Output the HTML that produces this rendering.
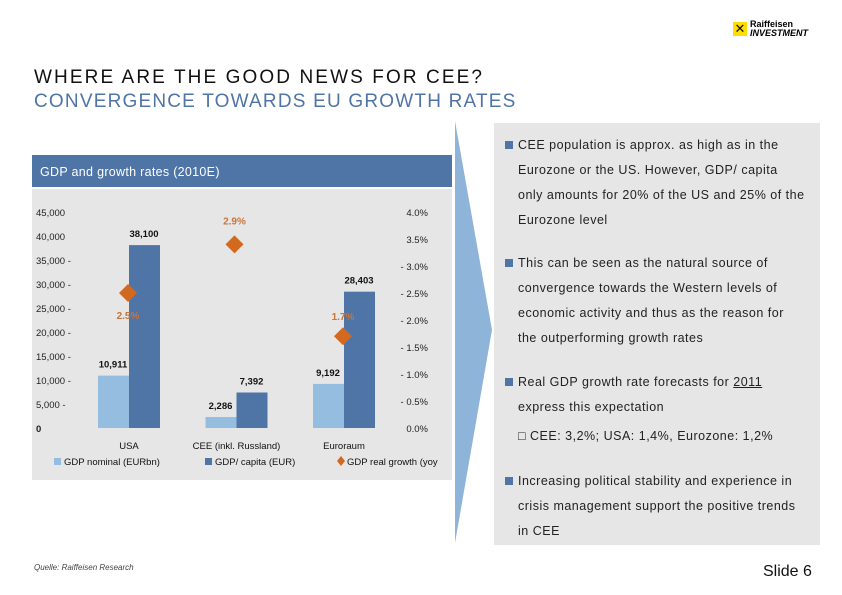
<!DOCTYPE html>
<html><head><meta charset="utf-8"><style>
body{margin:0;width:842px;height:595px;background:#fff;position:relative;overflow:hidden;font-family:"Liberation Sans","DejaVu Sans",sans-serif}
.abs{position:absolute}
.t1{left:34px;top:67px;font-size:19px;color:#111;letter-spacing:2.1px;white-space:nowrap}
.t2{left:34px;top:91px;font-size:19px;color:#4f74a6;letter-spacing:1.2px;white-space:nowrap}
#panel{left:494px;top:123px;width:326px;height:422px;background:#e6e6e6}
.b{position:absolute;left:24px;font-size:12.5px;color:#222;line-height:25px;white-space:nowrap;letter-spacing:0.5px}
.b:before{content:"";position:absolute;left:-13px;top:8px;width:8px;height:8px;background:#4f74a6}
</style></head><body>
<div class="abs t1">WHERE ARE THE GOOD NEWS FOR CEE?</div>
<div class="abs t2">CONVERGENCE TOWARDS EU GROWTH RATES</div>
<div class="abs" style="left:733px;top:22px;">
<div style="position:absolute;left:0;top:0;width:14px;height:14px;background:#ffdd00;color:#111;font-size:13px;font-weight:bold;line-height:14px;text-align:center">✕</div>
<div style="position:absolute;left:17px;top:-2px;font-size:9px;font-weight:bold;line-height:9px;white-space:nowrap">Raiffeisen<br><i>INVESTMENT</i></div></div>
<svg class="abs" style="left:0;top:0" width="842" height="595"><polygon points="455,121 492,330 455,543" fill="#8fb4da"/></svg>
<div class="abs" id="panel">
<div class="b" style="top:10px">CEE population is approx. as high as in the<br>Eurozone or the US. However, GDP/ capita<br>only amounts for 20% of the US and 25% of the<br>Eurozone level</div>
<div class="b" style="top:128px">This can be seen as the natural source of<br>convergence towards the Western levels of<br>economic activity and thus as the reason for<br>the outperforming growth rates</div>
<div class="b" style="top:247px">Real GDP growth rate forecasts for <u>2011</u><br>express this expectation</div>
<div style="position:absolute;left:24px;top:306px;font-size:12.5px;color:#222;letter-spacing:0.5px;white-space:nowrap">□ CEE: 3,2%; USA: 1,4%, Eurozone: 1,2%</div>
<div class="b" style="top:346px">Increasing political stability and experience in<br>crisis management support the positive trends<br>in CEE</div>
</div>
<div class="abs" style="left:32px;top:155px;width:420px;height:32px;background:#4f74a6;color:#fff;font-size:12.5px;line-height:34px;padding-left:8px;box-sizing:border-box;letter-spacing:0.3px">GDP and growth rates (2010E)</div>
<div class="abs" style="left:32px;top:189px;width:420px;height:291px;background:#e6e6e6"></div>
<svg id="chart" class="abs" style="left:0;top:0" width="842" height="595"></svg>
<div class="abs" style="left:34px;top:563px;font-size:8px;font-style:italic;color:#444">Quelle: Raiffeisen Research</div>
<div class="abs" style="left:763px;top:563px;font-size:16px;color:#111">Slide 6</div>
<script>
const categories=["USA","CEE (inkl. Russland)","Euroraum"];
const gdpNominal=[10911,2286,9192];
const gdpCapita=[38100,7392,28403];
const growth=[2.5,3.4,1.7];
const growthLabels=["2.5%","2.9%","1.7%"];
const leftTicks=[0,5000,10000,15000,20000,25000,30000,35000,40000,45000];
const rightTicks=[0,0.5,1,1.5,2,2.5,3,3.5,4];
const NS="http://www.w3.org/2000/svg";
const svg=document.getElementById('chart');
const y0=428,yTop=212;
const yL=v=>y0-(v/45000)*(y0-yTop);
const yR=v=>y0-(v/4)*(y0-yTop);
const cx=i=>129+i*107.5;
const bw=31;
function mk(t,a,txt){const e=document.createElementNS(NS,t);for(const k in a)e.setAttribute(k,a[k]);if(txt!==undefined)e.textContent=txt;svg.appendChild(e);return e;}
leftTicks.forEach(v=>{const e=mk('text',{x:36,y:yL(v)+4,'font-size':9.5,fill:'#222','font-weight':v===0?'bold':'normal'},v===0?'0':v.toLocaleString('en-US')+(v<=35000?' -':''));

});
rightTicks.forEach(v=>{const e=mk('text',{x:428,y:yR(v)+4,'font-size':9.5,fill:'#222','text-anchor':'end'},(v>0&&v<3.5?'- ':'')+v.toFixed(1)+'%');

});
categories.forEach((c,i)=>{
const x=cx(i);
const r1=mk('rect',{x:x-bw,y:yL(gdpNominal[i]),width:bw,height:y0-yL(gdpNominal[i]),fill:'#95bde0'});


const r2=mk('rect',{x:x,y:yL(gdpCapita[i]),width:bw,height:y0-yL(gdpCapita[i]),fill:'#4f74a6'});


const l1=mk('text',{x:x-16,y:yL(gdpNominal[i])-8,'font-size':9.5,'font-weight':'bold','text-anchor':'middle',fill:'#111'},gdpNominal[i].toLocaleString('en-US'));


const l2=mk('text',{x:x+15,y:yL(gdpCapita[i])-8,'font-size':9.5,'font-weight':'bold','text-anchor':'middle',fill:'#111'},gdpCapita[i].toLocaleString('en-US'));


const cat=mk('text',{x:x,y:449,'font-size':9.5,'text-anchor':'middle',fill:'#111'},c);


const gy=yR(growth[i]);const gx=i===1?x-2:x-1;
const d=mk('polygon',{points:`${gx},${gy-9} ${gx+9},${gy} ${gx},${gy+9} ${gx-9},${gy}`,fill:'#d2691e'});


const off=[26,-20,-16][i];
const gl=mk('text',{x:gx,y:gy+off,'font-size':10,'font-weight':'bold','text-anchor':'middle',fill:'#c8753a'},growthLabels[i]);


});
const lg=[[54,'#95bde0','GDP nominal (EURbn)','rect'],[205,'#4f74a6','GDP/ capita (EUR)','rect'],[337,'#d2691e','GDP real growth (yoy','dia']];
lg.forEach(([x,c,t,s])=>{
const m=s==='rect'?mk('rect',{x:x,y:458,width:7,height:7,fill:c}):mk('polygon',{points:`${x+4},456 ${x+8},461 ${x+4},466 ${x},461`,fill:c});


const e=mk('text',{x:x+10,y:465,'font-size':9.5,fill:'#111'},t);


});
</script>
</body></html>
